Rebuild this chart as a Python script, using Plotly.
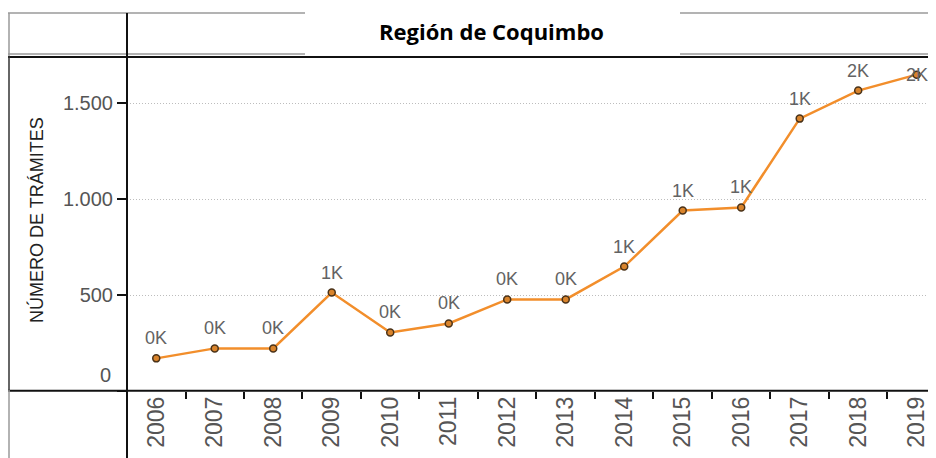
import plotly.graph_objects as go

# ---- data ----
years = ["2006", "2007", "2008", "2009", "2010", "2011", "2012",
         "2013", "2014", "2015", "2016", "2017", "2018", "2019"]
tramites = [170, 222, 222, 513, 305, 352, 477, 477, 648, 940, 956, 1419, 1565, 1648]
y_tick_vals = [0, 500, 1000, 1500]
y_tick_text = ["", "500", "1.000", "1.500"]
title_text = "Región de Coquimbo"
y_title = "NÚMERO DE TRÁMITES"
labels = [f"{round(v / 1000)}K" for v in tramites]

# page has an 8px body margin -> figure origin sits at page (8, 8)
OFF = 8
W, H = 936 - OFF, 458 - OFF
L, R, T, B = 127 - OFF, 0, 57 - OFF, H - (391 - OFF)
PW, PH = W - L - R, H - T - B

def px(x):  # page x -> paper
    return (x - OFF - L) / PW

def py(y):  # page y -> paper
    return (H - B - (y - OFF)) / PH

ORANGE = "#F28E2B"
FONT = "Liberation Sans"

fig = go.Figure()
fig.add_trace(go.Scatter(
    x=years, y=tramites, mode="lines+markers",
    line=dict(color=ORANGE, width=2.5),
    marker=dict(size=7, color="#d9842c", line=dict(color="#4a3218", width=1.5)),
    hoverinfo="x+y", showlegend=False,
))

annotations = []
for i, (v, lab) in enumerate(zip(tramites, labels)):
    last = i == len(years) - 1
    annotations.append(dict(
        x=i, y=v, xref="x", yref="y", text=lab, showarrow=False,
        xanchor="center",
        yanchor="middle" if last else "bottom", yshift=0 if last else 8,
        font=dict(family=FONT, size=18, color="#636363"),
    ))

# title
annotations.append(dict(
    x=px(491.5), y=py(31), xref="paper", yref="paper", text=f"<b>{title_text}</b>",
    showarrow=False, xanchor="center", yanchor="middle",
    font=dict(family="Open Sans", size=22, color="#000000"),
))
# y axis title
annotations.append(dict(
    x=px(36), y=py(220), xref="paper", yref="paper", text=y_title, textangle=-90,
    showarrow=False, xanchor="center", yanchor="middle",
    font=dict(family=FONT, size=18, color="#222222"),
))
# zero tick label (shifted up inside pane)
annotations.append(dict(
    x=0, y=0, xref="paper", yref="y", text="0", showarrow=False,
    xanchor="right", yanchor="middle", xshift=-14, yshift=16,
    font=dict(family=FONT, size=20, color="#555555"),
))

def hline(y, x0, x1, color, width):
    return dict(type="line", xref="paper", yref="paper", x0=px(x0), x1=px(x1),
                y0=py(y), y1=py(y), line=dict(color=color, width=width), layer="above")

def vline(x, y0, y1, color, width):
    return dict(type="line", xref="paper", yref="paper", x0=px(x), x1=px(x),
                y0=py(y0), y1=py(y1), line=dict(color=color, width=width), layer="above")

shapes = [
    hline(13, 8, 305, "#9a9a9a", 1.5),
    hline(13, 680, 936, "#9a9a9a", 1.5),
    hline(54, 8, 305, "#9a9a9a", 1.5),
    hline(54, 680, 936, "#9a9a9a", 1.5),
    hline(57, 8, 936, "#111111", 2),
    hline(390.8, 8, 936, "#111111", 2),
    vline(127, 13, 458, "#111111", 2),
    vline(9, 13, 56, "#9a9a9a", 1.5),
    vline(9, 56, 390, "#333333", 1.5),
    vline(9, 390, 458, "#9a9a9a", 1.5),
]

fig.update_layout(
    width=W, height=H,
    margin=dict(l=L, r=R, t=T, b=B, pad=0),
    paper_bgcolor="white", plot_bgcolor="white",
    separators=",.",
    annotations=annotations, shapes=shapes,
    xaxis=dict(
        type="category", range=[-0.5, 13.33], tickson="boundaries",
        ticks="outside", ticklen=7, tickwidth=1.5, tickcolor="#111111",
        tickangle=-90, showgrid=False, zeroline=False, showline=False,
        tickfont=dict(family=FONT, size=23, color="#555555"),
        automargin=False, fixedrange=True,
    ),
    yaxis=dict(
        range=[0, 1740], tickvals=y_tick_vals, ticktext=y_tick_text,
        ticks="outside", ticklen=9, tickwidth=1.5, tickcolor="#111111",
        showgrid=True, gridcolor="#bdbdbd", griddash="1px,2px", gridwidth=1,
        zeroline=False, showline=False,
        tickfont=dict(family=FONT, size=20, color="#555555"),
        automargin=False, fixedrange=True,
    ),
)

fig.write_html("out.html")
